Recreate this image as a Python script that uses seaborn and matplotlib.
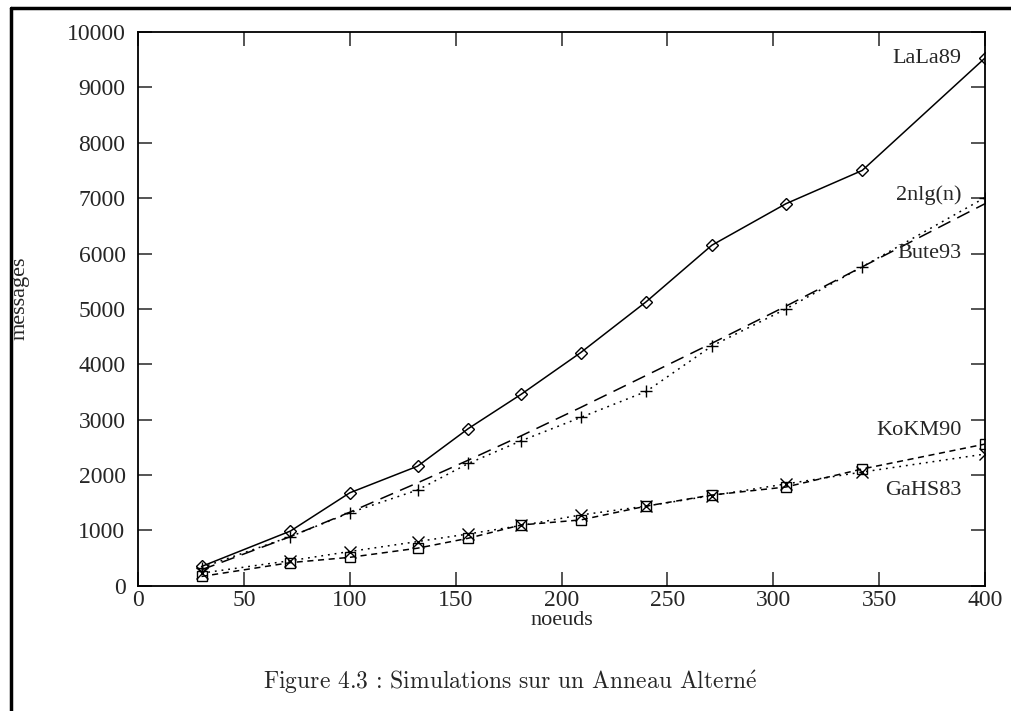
import numpy as np
import pandas as pd
import matplotlib
matplotlib.use("Agg")
import matplotlib.pyplot as plt
from matplotlib.lines import Line2D
import seaborn as sns

# data
noeuds = [30, 72, 100, 132, 156, 181, 209, 240, 271, 306, 342, 400]
lala89 = [350, 990, 1680, 2160, 2840, 3460, 4210, 5130, 6150, 6900, 7500, 9530]
nlgn = [290, 890, 1330, 1860, 2270, 2710, 3220, 3800, 4380, 5050, 5760, 6900]
bute93 = [330, 890, 1320, 1730, 2210, 2620, 3040, 3510, 4330, 5000, 5760, 7010]
kokm90 = [170, 420, 515, 680, 860, 1100, 1190, 1440, 1640, 1785, 2110, 2560]
gahs83 = [230, 455, 620, 800, 937, 1090, 1280, 1440, 1630, 1840, 2055, 2380]

series = ["LaLa89", "2nlg(n)", "Bute93", "KoKM90", "GaHS83"]
values = [lala89, nlgn, bute93, kokm90, gahs83]

df = pd.concat([pd.DataFrame({"noeuds": noeuds, "messages": v, "algo": s})
                for s, v in zip(series, values)], ignore_index=True)

sns.set_style("ticks")
plt.rcParams["font.family"] = ["Liberation Serif", "DejaVu Serif"]
plt.rcParams["mathtext.fontset"] = "cm"

fig = plt.figure(figsize=(10.11, 7.11), dpi=100)
ax = fig.add_axes([0.1365, 0.176, 0.8378, 0.779])

markers = {"LaLa89": "D", "2nlg(n)": None, "Bute93": "+", "KoKM90": "s", "GaHS83": "x"}
msize = {"LaLa89": 6, "2nlg(n)": 0, "Bute93": 9, "KoKM90": 7.5, "GaHS83": 9}
dashes = {"LaLa89": "-", "2nlg(n)": (0, (9, 5)), "Bute93": (0, (1.2, 3.2)),
          "KoKM90": (0, (4, 3)), "GaHS83": (0, (1.2, 3.2))}

for s in series:
    sub = df[df["algo"] == s]
    sns.lineplot(data=sub, x="noeuds", y="messages", color="black", linewidth=1.1,
                 linestyle=dashes[s], marker=markers[s], markersize=msize[s],
                 mec="black", mfc="none", mew=1.0, ax=ax)

ax.set_xlim(0, 400)
ax.set_ylim(0, 10000)
ax.set_xticks(np.arange(0, 401, 50))
ax.set_yticks(np.arange(0, 10001, 1000))
ax.tick_params(direction="in", length=10, width=1.1, top=True, right=True,
               labelsize=17)
ax.tick_params(axis="x", pad=3)
ax.tick_params(axis="y", pad=9)
for sp in ax.spines.values():
    sp.set_linewidth(1.3)
    sp.set_color("black")

ax.set_xlabel("noeuds", fontsize=16, labelpad=0)
ax.set_ylabel("messages", fontsize=16)
ax.yaxis.set_label_coords(-0.128, 0.52)

# curve labels
lab_y = {"LaLa89": 9520, "2nlg(n)": 7050, "Bute93": 6000, "KoKM90": 2800, "GaHS83": 1720}
for s in series:
    ax.text(389, lab_y[s], s, ha="right", va="center", fontsize=16)

fig.text(0.505, 0.04, r"Figure 4.3 : Simulations sur un Anneau Altern$\acute{\mathrm{e}}$",
         ha="center", va="center", fontsize=17, family="cmr10")

# page frame lines (top and left)
fig.add_artist(Line2D([0.0109, 1.0], [0.989, 0.989], color="black", lw=2.5,
                      transform=fig.transFigure))
fig.add_artist(Line2D([0.0109, 0.0109], [0.0, 0.989], color="black", lw=2.5,
                      transform=fig.transFigure))

fig.savefig("out.png", dpi=100)
